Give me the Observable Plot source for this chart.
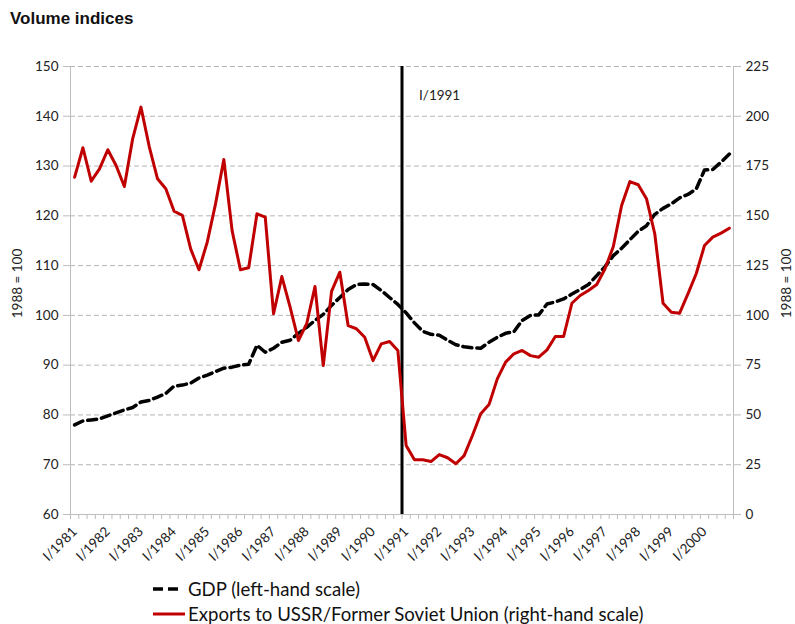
<!DOCTYPE html>
<html><head><meta charset="utf-8">
<script src="https://cdn.jsdelivr.net/npm/d3@7"></script>
<script src="https://cdn.jsdelivr.net/npm/@observablehq/plot@0.6"></script>
<style>
body{margin:0;background:#fff;width:795px;height:624px;position:relative;overflow:hidden;font-family:Lato,"Open Sans",sans-serif;}
#chart{position:absolute;left:0;top:0;}
#sub{position:absolute;left:10px;top:9px;font:bold 17px "Liberation Sans",Arial,sans-serif;color:#111;}
#legend{position:absolute;left:153px;top:576px;font-size:18.6px;color:#111;}
.item{display:flex;align-items:center;height:25px;white-space:nowrap;}
.item svg{margin-right:3px;}
</style></head><body>
<div id="chart"></div>
<div id="sub">Volume indices</div>
<div id="legend">
  <div class="item"><svg width="32" height="10"><line x1="0" x2="27" y1="5" y2="5" stroke="#000" stroke-width="3.5" stroke-dasharray="10,5"/></svg><span id="lg1"></span></div>
  <div class="item"><svg width="32" height="10"><line x1="0" x2="32" y1="5" y2="5" stroke="#c00000" stroke-width="3"/></svg><span id="lg2"></span></div>
</div>
<script>
// Years and quarter numerals (x axis categories)
const years = [1981,1982,1983,1984,1985,1986,1987,1988,1989,1990,1991,1992,1993,1994,1995,1996,1997,1998,1999,2000];
const quarterNames = ["I","II","III","IV"];
const quarters = years.flatMap(y => quarterNames.map(q => q + "/" + y));

// GDP, volume index 1988 = 100 (left-hand scale)
const gdp = [
  78.0, 78.8, 79.0, 79.2,  79.8, 80.4, 81.0, 81.5,  82.6, 82.9, 83.6, 84.3,
  85.8, 86.0, 86.4, 87.4,  88.0, 88.7, 89.4, 89.6,  90.0, 90.2, 94.0, 92.6,
  93.4, 94.6, 95.0, 96.4,  97.6, 99.0, 100.2, 102.0, 103.6, 105.2, 106.2, 106.3,
  106.2, 105.0, 103.6, 102.2, 100.5, 98.5, 96.8, 96.2, 96.0, 95.0, 94.1, 93.7,
  93.5, 93.4, 94.6, 95.6,  96.4, 96.7, 99.0, 100.0, 100.1, 102.3, 102.7, 103.3,
  104.3, 105.2, 106.2, 108.0, 109.8, 112.0, 113.5, 115.2, 116.9, 118.0, 120.3, 121.5,
  122.4, 123.6, 124.3, 125.4, 129.2, 129.3, 130.8, 132.4
];

// Exports to USSR / Former Soviet Union, volume index 1988 = 100 (right-hand scale)
const exportsFSU = [
  169.4, 184.2, 167.4, 173.6, 183.2, 175.3, 164.7, 188.7, 204.6, 184.8, 168.6, 163.6,
  152.3, 150.2, 133.4, 122.9, 136.8, 156.0, 178.3, 142.6, 122.9, 123.9, 151.0, 149.3,
  100.8, 119.5, 104.1, 87.4,  95.8, 114.5, 74.8, 112.1, 121.7, 94.9, 93.3, 89.0,
  77.3, 85.7, 86.9, 82.4,  34.6, 27.5, 27.5, 26.6,  30.1, 28.5, 25.5, 29.6,
  39.7, 50.6, 55.2, 68.1,  76.5, 80.7, 82.4, 79.8,  79.0, 82.7, 89.4, 89.4,
  106.1, 110.0, 112.5, 115.5, 123.4, 134.6, 155.2, 167.2, 165.6, 158.6, 141.0, 106.1,
  101.6, 101.1, 110.8, 120.9, 135.1, 139.3, 141.3, 143.8
];

const leftTicks = [60,70,80,90,100,110,120,130,140,150];
const rightTicks = [0,25,50,75,100,125,150,175,200,225];
const axisTitle = "1988 = 100";
const eventLabel = "I/1991";
const seriesNames = ["GDP (left-hand scale)", "Exports to USSR/Former Soviet Union (right-hand scale)"];

document.getElementById("lg1").textContent = seriesNames[0];
document.getElementById("lg2").textContent = seriesNames[1];

// map right-scale values onto the left scale
const rMin = rightTicks[0], rMax = rightTicks[rightTicks.length-1];
const lMin = leftTicks[0], lMax = leftTicks[leftTicks.length-1];
const toLeft = r => lMin + (r - rMin) * (lMax - lMin) / (rMax - rMin);
const toRight = v => rMin + (v - lMin) * (rMax - rMin) / (lMax - lMin);

const data = quarters.map((q, i) => ({i, q, gdp: gdp[i], exp: exportsFSU[i]}));
const n = quarters.length;
const eventIdx = quarters.indexOf(eventLabel);
const labelIdx = quarters.map((q, i) => i).filter(i => quarters[i].startsWith("I/"));

const grey = "#bdbdbd";
const chart = Plot.plot({
  width: 795, height: 575,
  marginTop: 66, marginBottom: 61, marginLeft: 70, marginRight: 62,
  style: {fontFamily: "Lato, 'Open Sans', sans-serif", fontSize: "13.5px", color: "#222", background: "#fff"},
  x: {domain: [0, n]},
  y: {domain: [lMin, lMax]},
  marks: [
    Plot.gridY(leftTicks, {stroke: "#b5b5b5", strokeOpacity: 1, strokeDasharray: "5,3"}),
    Plot.ruleX([0, n], {y1: lMin, y2: lMax, stroke: grey}),
    Plot.ruleY([lMin], {stroke: grey}),
    Plot.axisY({anchor: "left", ticks: leftTicks, tickSize: 7, tickPadding: 5, label: null, stroke: grey}),
    Plot.axisY({anchor: "right", ticks: leftTicks, tickFormat: v => String(Math.round(toRight(v))), tickSize: 7, tickPadding: 5, label: null, stroke: grey}),
    Plot.axisX({ticks: d3.range(0, n + 1), tickSize: 5, tickFormat: () => "", label: null, stroke: grey}),
    Plot.axisX({ticks: labelIdx.map(i => i + 0.5), tickFormat: v => quarters[Math.round(v - 0.5)], tickRotate: -45, tickSize: 0, tickPadding: 15, label: null, fontSize: 13.5}),
    Plot.ruleX([eventIdx], {y1: lMin, y2: lMax, stroke: "#000", strokeWidth: 3}),
    Plot.text([eventLabel], {x: eventIdx, y: 144.2, dx: 17, textAnchor: "start", fontSize: 13.5, fill: "#222"}),
    Plot.lineY(data, {x: d => d.i + 0.5, y: "gdp", stroke: "#000", strokeWidth: 3.5, strokeDasharray: "9,5"}),
    Plot.lineY(data, {x: d => d.i + 0.5, y: d => toLeft(d.exp), stroke: "#c00000", strokeWidth: 3}),
    Plot.text([axisTitle], {frameAnchor: "left", rotate: -90, dx: -53, dy: -7, textAnchor: "middle", fontSize: 13.5, fill: "#222"}),
    Plot.text([axisTitle], {frameAnchor: "right", rotate: -90, dx: 53, dy: -7, textAnchor: "middle", fontSize: 13.5, fill: "#222"})
  ]
});
document.getElementById("chart").appendChild(chart);
</script>
</body></html>
